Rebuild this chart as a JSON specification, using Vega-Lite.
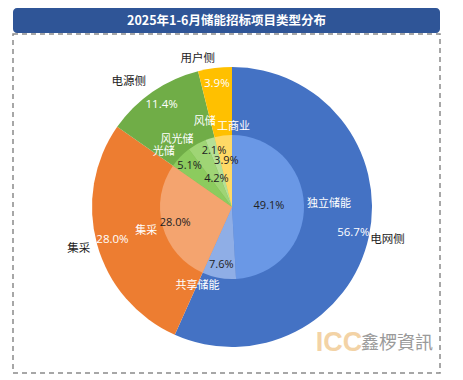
{
  "$schema": "https://vega.github.io/schema/vega-lite/v6.json",
  "padding": {"top": 8, "left": 12, "right": 0, "bottom": 0},
  "background": "white",
  "spacing": 0,
  "config": {"font": "Open Sans, Noto Sans CJK SC", "text": {"font": "Open Sans, Noto Sans CJK SC"}},
  "datasets": {
    "outer": [
      {"name": "电网侧", "v": 0.567, "o": 1},
      {"name": "集采", "v": 0.28, "o": 2},
      {"name": "电源侧", "v": 0.114, "o": 3},
      {"name": "用户侧", "v": 0.039, "o": 4}
    ],
    "inner": [
      {"name": "独立储能", "v": 0.491, "o": 1},
      {"name": "共享储能", "v": 0.076, "o": 2},
      {"name": "集采", "v": 0.28, "o": 3},
      {"name": "风光储", "v": 0.051, "o": 4},
      {"name": "光储", "v": 0.042, "o": 5},
      {"name": "风储", "v": 0.021, "o": 6},
      {"name": "工商业", "v": 0.039, "o": 7}
    ],
    "titletext": [{"t": "2025年1-6月储能招标项目类型分布"}],
    "logo": [{"a": "ICC", "b": "鑫椤資訊"}]
  },
  "vconcat": [
    {
      "width": 427,
      "height": 25,
      "view": {"fill": "#2F5597", "stroke": null, "cornerRadius": 4},
      "data": {"name": "titletext"},
      "mark": {"type": "text", "color": "white", "fontSize": 12.5, "fontWeight": "bold", "font": "Noto Sans CJK SC", "baseline": "middle", "align": "center"},
      "encoding": {"text": {"field": "t"}}
    },
    {
      "width": 427,
      "height": 339,
      "view": {"stroke": "#8a8a8a", "strokeDash": [5, 4], "strokeWidth": 1.5, "fill": "white"},
      "resolve": {"scale": {"color": "independent"}},
      "layer": [
        {
          "data": {"name": "outer"},
          "mark": {"type": "arc", "outerRadius": 140, "xOffset": 5.5, "yOffset": 3.5},
          "encoding": {
            "theta": {"field": "v", "type": "quantitative", "stack": true},
            "order": {"field": "o", "type": "quantitative"},
            "color": {"field": "name", "type": "nominal", "legend": null,
              "scale": {"domain": ["电网侧", "集采", "电源侧", "用户侧"], "range": ["#4472C4", "#ED7D31", "#70AD47", "#FFC000"]}}
          }
        },
        {
          "data": {"name": "inner"},
          "mark": {"type": "arc", "outerRadius": 72, "xOffset": 5.5, "yOffset": 3.5},
          "encoding": {
            "theta": {"field": "v", "type": "quantitative", "stack": true},
            "order": {"field": "o", "type": "quantitative"},
            "color": {"field": "name", "type": "nominal", "legend": null,
              "scale": {"domain": ["独立储能", "共享储能", "集采", "风光储", "光储", "风储", "工商业"], "range": ["#6A98E6", "#8FAEE6", "#F4A46F", "#8CCB5E", "#9FD575", "#B5E096", "#FFD966"]}}
          }
        },
        {
          "data": {"name": "outer"},
          "mark": {"type": "text", "radius": 124, "color": "white", "fontSize": 11.5, "xOffset": 5.5, "yOffset": 3.5},
          "encoding": {
            "theta": {"field": "v", "type": "quantitative", "stack": true},
            "order": {"field": "o", "type": "quantitative"},
            "detail": {"field": "name"},
            "text": {"field": "v", "type": "quantitative", "format": ".1%"}
          }
        },
        {
          "data": {"name": "outer"},
          "mark": {"type": "text", "radius": 159, "color": "#222222", "fontSize": 11.5, "xOffset": 5.5, "yOffset": 3.5},
          "encoding": {
            "theta": {"field": "v", "type": "quantitative", "stack": true},
            "order": {"field": "o", "type": "quantitative"},
            "detail": {"field": "name"},
            "text": {"condition": {"test": "datum.name === '电网侧' || datum.name === '集采'", "field": "name"}, "value": ""}
          }
        },
        {
          "data": {"name": "outer"},
          "mark": {"type": "text", "radius": 162, "thetaOffset": -0.087, "color": "#222222", "fontSize": 11.5, "xOffset": 5.5, "yOffset": 3.5},
          "encoding": {
            "theta": {"field": "v", "type": "quantitative", "stack": true},
            "order": {"field": "o", "type": "quantitative"},
            "detail": {"field": "name"},
            "text": {"condition": {"test": "datum.name === '电源侧'", "field": "name"}, "value": ""}
          }
        },
        {
          "data": {"name": "outer"},
          "mark": {"type": "text", "radius": 152, "thetaOffset": -0.105, "color": "#222222", "fontSize": 11.5, "xOffset": 5.5, "yOffset": 3.5},
          "encoding": {
            "theta": {"field": "v", "type": "quantitative", "stack": true},
            "order": {"field": "o", "type": "quantitative"},
            "detail": {"field": "name"},
            "text": {"condition": {"test": "datum.name === '用户侧'", "field": "name"}, "value": ""}
          }
        },
        {
          "data": {"name": "inner"},
          "mark": {"type": "text", "radius": 59, "color": "#222222", "fontSize": 11, "xOffset": 5.5, "yOffset": 3.5},
          "encoding": {
            "theta": {"field": "v", "type": "quantitative", "stack": true},
            "order": {"field": "o", "type": "quantitative"},
            "detail": {"field": "name"},
            "text": {"condition": {"test": "indexof(['共享储能','集采','风光储','风储'], datum.name) >= 0", "field": "v", "type": "quantitative", "format": ".1%"}, "value": ""}
          }
        },
        {
          "data": {"name": "inner"},
          "mark": {"type": "text", "radius": 32, "color": "#222222", "fontSize": 11, "xOffset": 5.5, "yOffset": 3.5},
          "encoding": {
            "theta": {"field": "v", "type": "quantitative", "stack": true},
            "order": {"field": "o", "type": "quantitative"},
            "detail": {"field": "name"},
            "text": {"condition": {"test": "datum.name === '光储'", "field": "v", "type": "quantitative", "format": ".1%"}, "value": ""}
          }
        },
        {
          "data": {"name": "inner"},
          "mark": {"type": "text", "radius": 46, "color": "#222222", "fontSize": 11, "xOffset": 5.5, "yOffset": 3.5},
          "encoding": {
            "theta": {"field": "v", "type": "quantitative", "stack": true},
            "order": {"field": "o", "type": "quantitative"},
            "detail": {"field": "name"},
            "text": {"condition": {"test": "datum.name === '工商业'", "field": "v", "type": "quantitative", "format": ".1%"}, "value": ""}
          }
        },
        {
          "data": {"name": "inner"},
          "mark": {"type": "text", "radius": 37, "color": "#222222", "fontSize": 11, "xOffset": 5.5, "yOffset": 3.5},
          "encoding": {
            "theta": {"field": "v", "type": "quantitative", "stack": true},
            "order": {"field": "o", "type": "quantitative"},
            "detail": {"field": "name"},
            "text": {"condition": {"test": "datum.name === '独立储能'", "field": "v", "type": "quantitative", "format": ".1%"}, "value": ""}
          }
        },
        {
          "data": {"name": "inner"},
          "mark": {"type": "text", "radius": 89, "color": "white", "fontSize": 11, "xOffset": 5.5, "yOffset": 3.5},
          "encoding": {
            "theta": {"field": "v", "type": "quantitative", "stack": true},
            "order": {"field": "o", "type": "quantitative"},
            "detail": {"field": "name"},
            "text": {"condition": {"test": "indexof(['集采','风储'], datum.name) >= 0", "field": "name"}, "value": ""}
          }
        },
        {
          "data": {"name": "inner"},
          "mark": {"type": "text", "radius": 87, "thetaOffset": 0.115, "color": "white", "fontSize": 11, "xOffset": 5.5, "yOffset": 3.5},
          "encoding": {
            "theta": {"field": "v", "type": "quantitative", "stack": true},
            "order": {"field": "o", "type": "quantitative"},
            "detail": {"field": "name"},
            "text": {"condition": {"test": "datum.name === '风光储'", "field": "name"}, "value": ""}
          }
        },
        {
          "data": {"name": "inner"},
          "mark": {"type": "text", "radius": 97, "color": "white", "fontSize": 11, "xOffset": 5.5, "yOffset": 3.5},
          "encoding": {
            "theta": {"field": "v", "type": "quantitative", "stack": true},
            "order": {"field": "o", "type": "quantitative"},
            "detail": {"field": "name"},
            "text": {"condition": {"test": "datum.name === '独立储能'", "field": "name"}, "value": ""}
          }
        },
        {
          "data": {"name": "inner"},
          "mark": {"type": "text", "radius": 86, "thetaOffset": 0.23, "color": "white", "fontSize": 11, "xOffset": 5.5, "yOffset": 3.5},
          "encoding": {
            "theta": {"field": "v", "type": "quantitative", "stack": true},
            "order": {"field": "o", "type": "quantitative"},
            "detail": {"field": "name"},
            "text": {"condition": {"test": "datum.name === '共享储能'", "field": "name"}, "value": ""}
          }
        },
        {
          "data": {"name": "inner"},
          "mark": {"type": "text", "radius": 88, "thetaOffset": -0.38, "color": "white", "fontSize": 11, "xOffset": 5.5, "yOffset": 3.5},
          "encoding": {
            "theta": {"field": "v", "type": "quantitative", "stack": true},
            "order": {"field": "o", "type": "quantitative"},
            "detail": {"field": "name"},
            "text": {"condition": {"test": "datum.name === '光储'", "field": "name"}, "value": ""}
          }
        },
        {
          "data": {"name": "inner"},
          "mark": {"type": "text", "radius": 80, "thetaOffset": 0.14, "color": "white", "fontSize": 11, "xOffset": 5.5, "yOffset": 3.5},
          "encoding": {
            "theta": {"field": "v", "type": "quantitative", "stack": true},
            "order": {"field": "o", "type": "quantitative"},
            "detail": {"field": "name"},
            "text": {"condition": {"test": "datum.name === '工商业'", "field": "name"}, "value": ""}
          }
        },
        {
          "data": {"name": "logo"},
          "mark": {"type": "text", "x": 326, "y": 309, "font": "Liberation Sans", "fontWeight": "bold", "fontSize": 27, "color": "#F3D3A6", "align": "center", "baseline": "middle"},
          "encoding": {"text": {"field": "a"}}
        },
        {
          "data": {"name": "logo"},
          "mark": {"type": "text", "x": 384, "y": 310, "font": "Noto Sans CJK TC", "fontSize": 18, "color": "#9A9A9A", "align": "center", "baseline": "middle"},
          "encoding": {"text": {"field": "b"}}
        }
      ]
    }
  ]
}
